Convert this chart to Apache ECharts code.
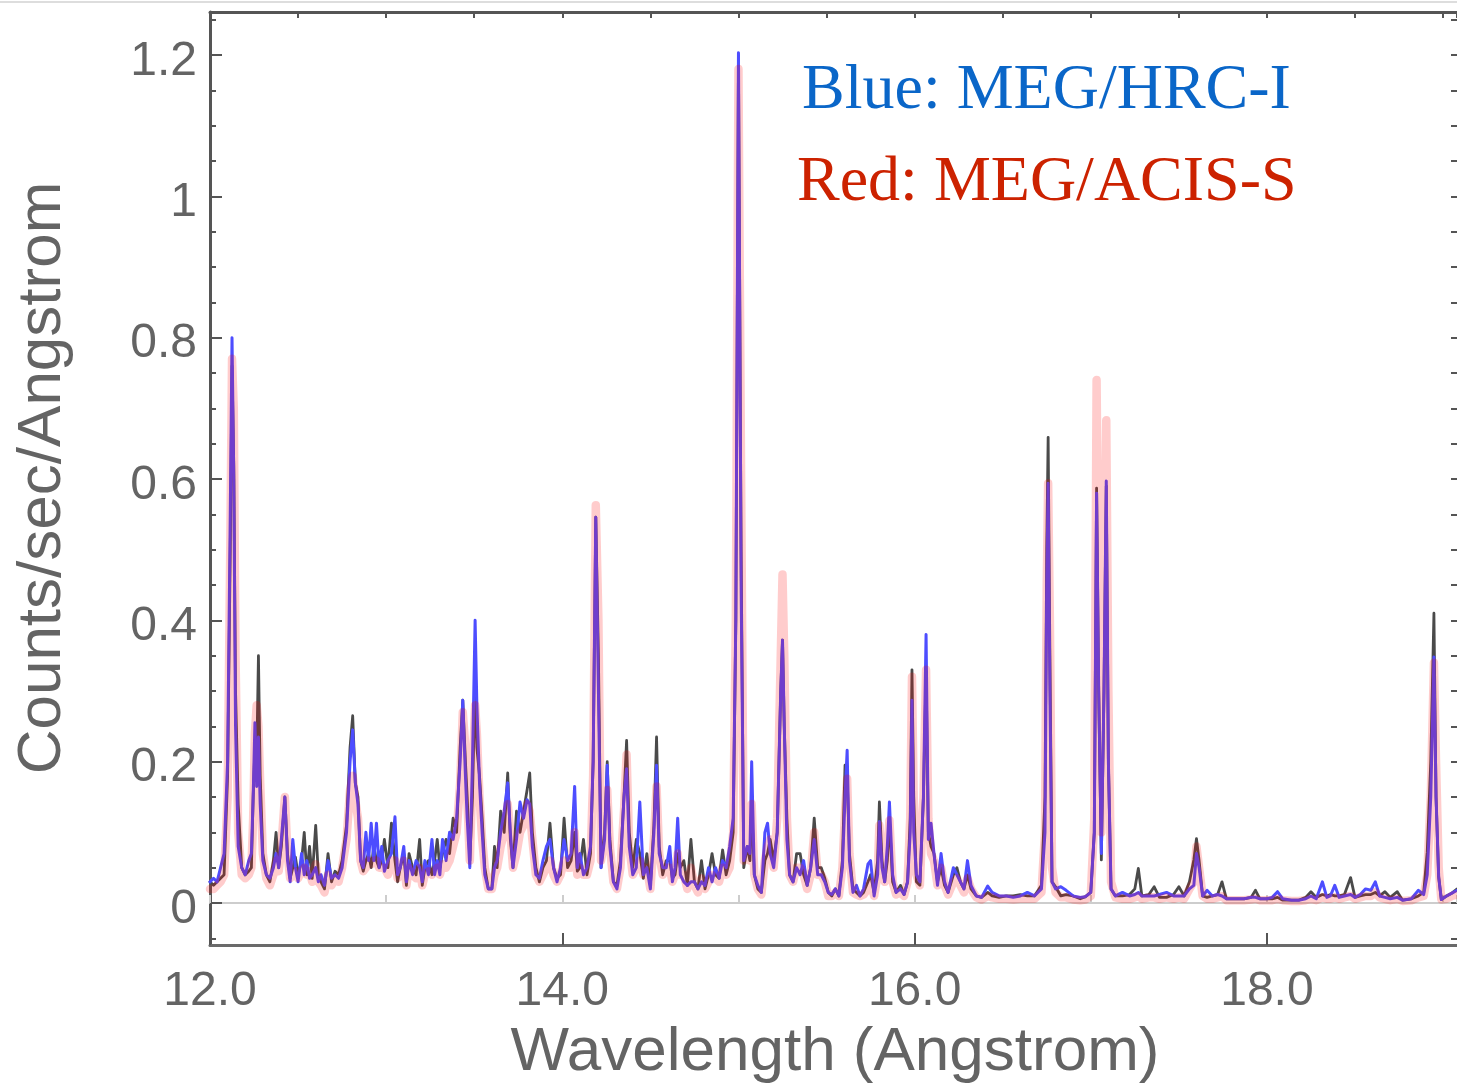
<!DOCTYPE html>
<html>
<head>
<meta charset="utf-8">
<title>MEG spectrum 12-19 Angstrom</title>
<script src="https://cdn.jsdelivr.net/npm/echarts@6/dist/echarts.min.js"></script>
<style>
  html, body { margin: 0; padding: 0; background: #ffffff; }
  #chart { width: 1457px; height: 1086px; }
</style>
</head>
<body>
<div id="chart"></div>
<script>
// Wavelength grid (Angstrom) shared by the three spectra
const wavelength = [
  12.00, 12.02, 12.04, 12.06, 12.08, 12.10, 12.115, 12.125, 12.135, 12.145,
  12.16, 12.18, 12.20, 12.22, 12.235, 12.245, 12.255, 12.265, 12.275, 12.285,
  12.30, 12.32, 12.34, 12.36, 12.375, 12.39, 12.405, 12.425, 12.44, 12.455,
  12.47, 12.485, 12.50, 12.52, 12.535, 12.55, 12.565, 12.58, 12.60, 12.615,
  12.63, 12.65, 12.67, 12.69, 12.71, 12.73, 12.75, 12.775, 12.795, 12.81,
  12.825, 12.84, 12.855, 12.87, 12.885, 12.90, 12.915, 12.93, 12.945, 12.96,
  12.975, 12.99, 13.01, 13.03, 13.05, 13.065, 13.08, 13.10, 13.115, 13.13,
  13.15, 13.17, 13.19, 13.205, 13.22, 13.24, 13.26, 13.275, 13.29, 13.305,
  13.32, 13.34, 13.36, 13.38, 13.40, 13.42, 13.435, 13.45, 13.46, 13.475,
  13.49, 13.505, 13.515, 13.53, 13.545, 13.56, 13.58, 13.60, 13.615, 13.63,
  13.65, 13.67, 13.69, 13.705, 13.72, 13.74, 13.76, 13.78, 13.80, 13.815,
  13.83, 13.85, 13.87, 13.89, 13.91, 13.93, 13.95, 13.97, 13.99, 14.01,
  14.03, 14.05, 14.07, 14.085, 14.10, 14.12, 14.14, 14.16, 14.175, 14.19,
  14.205, 14.22, 14.24, 14.255, 14.27, 14.29, 14.31, 14.33, 14.35, 14.365,
  14.38, 14.40, 14.42, 14.44, 14.46, 14.48, 14.50, 14.52, 14.535, 14.55,
  14.57, 14.59, 14.61, 14.625, 14.64, 14.655, 14.67, 14.69, 14.71, 14.73,
  14.75, 14.77, 14.79, 14.81, 14.83, 14.85, 14.87, 14.89, 14.91, 14.93,
  14.95, 14.97, 14.985, 15.00, 15.015, 15.03, 15.05, 15.065, 15.075, 15.09,
  15.11, 15.13, 15.15, 15.165, 15.18, 15.20, 15.22, 15.24, 15.25, 15.26,
  15.275, 15.29, 15.31, 15.33, 15.35, 15.37, 15.39, 15.41, 15.43, 15.45,
  15.47, 15.49, 15.51, 15.53, 15.55, 15.57, 15.59, 15.605, 15.617, 15.63,
  15.65, 15.67, 15.69, 15.71, 15.735, 15.75, 15.77, 15.79, 15.80, 15.815,
  15.83, 15.845, 15.857, 15.875, 15.895, 15.92, 15.94, 15.96, 15.975, 15.985,
  15.995, 16.01, 16.03, 16.05, 16.065, 16.078, 16.093, 16.11, 16.13, 16.15,
  16.17, 16.19, 16.22, 16.24, 16.26, 16.28, 16.30, 16.32, 16.35, 16.38,
  16.415, 16.44, 16.48, 16.52, 16.56, 16.60, 16.64, 16.68, 16.72, 16.74,
  16.75, 16.758, 16.768, 16.78, 16.80, 16.83, 16.86, 16.90, 16.94, 16.97,
  17.00, 17.02, 17.033, 17.045, 17.06, 17.075, 17.088, 17.10, 17.115, 17.14,
  17.18, 17.22, 17.25, 17.27, 17.29, 17.33, 17.36, 17.39, 17.43, 17.47,
  17.50, 17.53, 17.56, 17.585, 17.60, 17.615, 17.635, 17.66, 17.69, 17.72,
  17.745, 17.77, 17.82, 17.87, 17.91, 17.935, 17.96, 18.00, 18.03, 18.06,
  18.09, 18.14, 18.18, 18.22, 18.25, 18.28, 18.315, 18.34, 18.36, 18.385,
  18.41, 18.44, 18.475, 18.50, 18.53, 18.56, 18.59, 18.615, 18.64, 18.67,
  18.70, 18.74, 18.77, 18.82, 18.86, 18.89, 18.91, 18.93, 18.948, 18.96,
  18.975, 18.99, 19.02, 19.05, 19.08
];

// MEG/HRC-I count rate (counts/sec/Angstrom)
const hrcI = [
  .03, .035, .03, .05, .07, .20, .55, .80, .60, .25,
  .08, .05, .04, .06, .07, .15, .255, .165, .235, .14,
  .06, .04, .035, .05, .07, .05, .09, .15, .06, .03,
  .09, .05, .03, .07, .04, .06, .035, .04, .05, .03,
  .04, .025, .06, .035, .04, .035, .05, .10, .20, .245,
  .17, .14, .06, .05, .10, .06, .113, .06, .113, .05,
  .08, .045, .06, .07, .122, .04, .05, .08, .03, .06,
  .04, .06, .05, .03, .06, .04, .09, .04, .06, .04,
  .09, .06, .10, .09, .12, .20, .287, .18, .12, .05,
  .20, .40, .28, .17, .10, .04, .02, .02, .05, .06,
  .10, .13, .17, .10, .05, .09, .143, .12, .146, .14,
  .08, .04, .035, .06, .08, .09, .05, .03, .05, .09,
  .06, .07, .165, .05, .07, .04, .05, .08, .20, .546,
  .30, .05, .09, .195, .08, .03, .02, .05, .15, .19,
  .08, .04, .05, .143, .04, .05, .02, .10, .195, .07,
  .05, .05, .08, .03, .05, .12, .04, .03, .025, .03,
  .03, .02, .03, .025, .05, .03, .05, .035, .06, .05,
  .08, .12, .40, 1.203, .45, .06, .08, .07, .20, .04,
  .025, .015, .10, .113, .07, .05, .10, .30, .372, .25,
  .09, .04, .03, .05, .04, .06, .025, .05, .09, .04,
  .04, .03, .015, .012, .02, .01, .05, .15, .216, .06,
  .015, .025, .01, .02, .055, .06, .01, .04, .115, .05,
  .03, .08, .143, .04, .015, .02, .012, .03, .10, .287,
  .10, .04, .03, .15, .38, .09, .113, .07, .025, .07,
  .03, .015, .05, .04, .03, .02, .06, .025, .01, .008,
  .024, .015, .01, .01, .008, .01, .015, .01, .02, .10,
  .45, .594, .30, .03, .02, .023, .018, .01, .008, .009,
  .015, .10, .58, .30, .07, .30, .597, .20, .02, .01,
  .015, .01, .012, .015, .01, .01, .01, .012, .015, .01,
  .01, .01, .02, .025, .07, .05, .01, .018, .01, .012,
  .01, .006, .006, .006, .008, .008, .006, .006, .008, .016,
  .006, .004, .004, .006, .01, .006, .03, .008, .01, .025,
  .008, .01, .012, .008, .012, .02, .018, .03, .01, .008,
  .006, .008, .004, .006, .018, .012, .04, .15, .348, .15,
  .037, .005, .01, .014, .018
];

// Dark comparison spectrum
const darkTrace = [
  .03, .025, .03, .035, .04, .18, .50, .76, .62, .30,
  .14, .05, .04, .045, .05, .15, .22, .20, .35, .18,
  .07, .04, .03, .06, .10, .05, .08, .15, .07, .035,
  .05, .065, .04, .06, .10, .04, .08, .035, .11, .04,
  .03, .02, .07, .03, .045, .04, .06, .11, .22, .265,
  .17, .15, .06, .045, .06, .07, .05, .08, .06, .05,
  .06, .09, .05, .113, .06, .03, .05, .07, .025, .07,
  .05, .04, .09, .025, .05, .06, .04, .06, .09, .05,
  .07, .09, .07, .12, .10, .22, .287, .20, .15, .06,
  .15, .318, .22, .18, .12, .05, .02, .02, .08, .05,
  .13, .10, .184, .09, .05, .13, .10, .13, .16, .184,
  .10, .05, .03, .05, .06, .113, .05, .035, .04, .12,
  .05, .06, .10, .045, .05, .09, .04, .07, .20, .546,
  .35, .05, .10, .20, .09, .03, .025, .06, .15, .23,
  .10, .05, .09, .07, .035, .07, .025, .11, .235, .08,
  .04, .06, .06, .035, .04, .07, .05, .06, .025, .09,
  .03, .02, .06, .02, .04, .07, .04, .035, .075, .04,
  .06, .10, .40, 1.19, .50, .05, .08, .06, .14, .04,
  .02, .015, .06, .07, .09, .06, .10, .30, .372, .25,
  .12, .04, .03, .07, .07, .04, .025, .05, .12, .05,
  .05, .035, .015, .01, .02, .01, .06, .195, .18, .07,
  .02, .015, .01, .015, .03, .04, .015, .06, .143, .06,
  .03, .06, .12, .03, .015, .025, .012, .03, .12, .33,
  .15, .03, .025, .15, .328, .10, .08, .07, .03, .05,
  .025, .015, .04, .05, .03, .02, .04, .02, .01, .008,
  .015, .01, .008, .01, .01, .012, .01, .01, .025, .15,
  .50, .659, .35, .03, .023, .01, .012, .01, .006, .009,
  .015, .10, .587, .30, .061, .30, .59, .20, .02, .01,
  .01, .012, .02, .049, .01, .012, .023, .008, .008, .012,
  .023, .01, .03, .061, .091, .06, .01, .008, .01, .012,
  .03, .006, .006, .006, .008, .018, .006, .006, .006, .008,
  .004, .004, .004, .008, .016, .008, .012, .01, .012, .01,
  .01, .012, .036, .008, .01, .012, .012, .015, .01, .016,
  .008, .016, .004, .006, .01, .015, .072, .20, .41, .15,
  .037, .005, .01, .014, .02
];

// MEG/ACIS-S count rate (counts/sec/Angstrom)
const acisS = [
  .02, .02, .025, .03, .04, .15, .50, .77, .70, .35,
  .10, .04, .035, .04, .05, .12, .24, .28, .25, .17,
  .07, .035, .025, .04, .06, .045, .08, .15, .07, .035,
  .04, .045, .035, .045, .05, .04, .045, .03, .055, .03,
  .025, .015, .04, .025, .035, .03, .05, .09, .16, .18,
  .145, .12, .06, .045, .05, .06, .055, .06, .06, .05,
  .05, .05, .04, .06, .06, .035, .04, .06, .025, .05,
  .04, .035, .05, .025, .04, .045, .04, .045, .05, .04,
  .055, .05, .06, .08, .10, .17, .27, .22, .15, .06,
  .18, .28, .24, .15, .09, .05, .02, .02, .04, .05,
  .08, .10, .14, .10, .05, .07, .10, .11, .14, .13,
  .09, .04, .03, .04, .05, .06, .04, .03, .04, .06,
  .05, .05, .10, .04, .05, .04, .04, .06, .18, .563,
  .40, .06, .09, .16, .08, .03, .02, .05, .13, .21,
  .08, .04, .05, .06, .04, .05, .02, .09, .165, .07,
  .04, .05, .05, .03, .04, .07, .04, .04, .02, .05,
  .025, .015, .035, .02, .03, .04, .035, .03, .05, .04,
  .05, .10, .40, 1.18, .60, .06, .07, .06, .14, .04,
  .02, .012, .06, .08, .09, .05, .12, .35, .465, .35,
  .12, .04, .03, .05, .05, .04, .02, .04, .10, .04,
  .04, .03, .01, .01, .015, .01, .05, .13, .176, .07,
  .015, .012, .01, .012, .02, .03, .01, .04, .11, .06,
  .03, .07, .117, .03, .012, .015, .01, .03, .12, .32,
  .15, .04, .025, .15, .33, .12, .07, .06, .025, .05,
  .025, .012, .03, .035, .025, .015, .035, .02, .008, .005,
  .01, .008, .006, .006, .005, .006, .006, .006, .015, .10,
  .45, .594, .40, .05, .015, .008, .008, .005, .004, .005,
  .01, .12, .74, .40, .10, .40, .683, .30, .03, .008,
  .006, .006, .008, .01, .006, .008, .008, .006, .008, .006,
  .008, .006, .02, .03, .08, .05, .01, .006, .006, .008,
  .01, .004, .004, .004, .005, .006, .004, .004, .004, .006,
  .004, .003, .003, .004, .006, .004, .008, .006, .006, .008,
  .006, .008, .01, .006, .008, .01, .01, .015, .008, .006,
  .004, .006, .003, .004, .008, .01, .04, .15, .34, .20,
  .05, .005, .006, .01, .012
];

// Axis ranges and tick positions
const xRange = [12, 19.079];
const yRange = [-0.0594, 1.2608];
const yMajorTicks = [0, 0.2, 0.4, 0.6, 0.8, 1, 1.2];
const yMinorTicks = [-0.05, 0.05, 0.1, 0.15, 0.25, 0.3, 0.35, 0.45, 0.5, 0.55,
  0.65, 0.7, 0.75, 0.85, 0.9, 0.95, 1.05, 1.1, 1.15, 1.25];

const pairs = vals => wavelength.map((w, i) => [w, vals[i]]);

const SANS = '"Liberation Sans", Arial, Helvetica, sans-serif';
const SERIF = '"Liberation Serif", "Times New Roman", serif';
const TEXT_GREY = '#646464';
const FRAME = '#555555';

const chart = echarts.init(document.getElementById('chart'), null, { renderer: 'canvas' });

const lineSeries = (name, vals, color, width, z) => ({
  name: name,
  type: 'line',
  xAxisIndex: 0,
  yAxisIndex: 0,
  data: pairs(vals),
  showSymbol: false,
  symbol: 'none',
  smooth: false,
  z: z,
  silent: true,
  lineStyle: { color: color, width: width, join: 'round', cap: 'round' }
});

chart.setOption({
  animation: false,
  backgroundColor: '#ffffff',
  grid: { left: 210, top: 12, width: 1248, height: 933, containLabel: false },
  xAxis: [
    {
      // bottom frame with labelled ticks
      type: 'value', position: 'bottom', min: xRange[0], max: xRange[1], interval: 2,
      axisLine: { onZero: false, lineStyle: { color: '#6a6a6a', width: 3 } },
      axisTick: { inside: true, length: 12, lineStyle: { color: FRAME, width: 2 } },
      axisLabel: {
        showMaxLabel: false, margin: 23, fontSize: 48, fontFamily: SANS, color: TEXT_GREY,
        formatter: v => v.toFixed(1)
      },
      splitLine: { show: false }
    },
    {
      // top frame
      type: 'value', position: 'top', min: xRange[0], max: xRange[1], interval: 0.5,
      axisLine: { onZero: false, lineStyle: { color: FRAME, width: 3 } },
      axisTick: { inside: true, length: 6, lineStyle: { color: FRAME, width: 2 } },
      axisLabel: { show: false },
      splitLine: { show: false }
    },
    {
      // baseline at zero counts
      type: 'value', position: 'bottom', min: xRange[0], max: xRange[1], interval: 1,
      axisLine: { onZero: true, onZeroAxisIndex: 0, lineStyle: { color: '#cdcdcd', width: 2 } },
      axisTick: { inside: true, length: 8, lineStyle: { color: '#cdcdcd', width: 2 } },
      axisLabel: { show: false },
      splitLine: { show: false }
    }
  ],
  yAxis: [
    {
      type: 'value', position: 'left', min: yRange[0], max: yRange[1],
      axisLine: { show: true, onZero: false, lineStyle: { color: FRAME, width: 3 } },
      axisTick: { show: true, inside: true, length: 12, customValues: yMajorTicks,
        lineStyle: { color: FRAME, width: 2 } },
      axisLabel: {
        show: true, customValues: yMajorTicks, margin: 13,
        formatter: v => '{v|' + v + '}',
        rich: {
          v: { fontSize: 48, fontFamily: SANS, color: TEXT_GREY, padding: [13, 0, 0, 0] }
        }
      },
      splitLine: { show: false }
    },
    {
      type: 'value', position: 'left', min: yRange[0], max: yRange[1],
      axisLine: { show: false, onZero: false },
      axisTick: { show: true, inside: true, length: 6, customValues: yMinorTicks,
        lineStyle: { color: FRAME, width: 2 } },
      axisLabel: { show: false },
      splitLine: { show: false }
    },
    {
      type: 'value', position: 'right', min: yRange[0], max: yRange[1],
      axisLine: { show: false, onZero: false },
      axisTick: { show: true, inside: true, length: 6,
        customValues: yMajorTicks.concat(yMinorTicks), lineStyle: { color: FRAME, width: 2 } },
      axisLabel: { show: false },
      splitLine: { show: false }
    }
  ],
  series: [
    lineSeries('Comparison', darkTrace, '#4a4a4a', 2.8, 3),
    lineSeries('MEG/HRC-I', hrcI, '#4d4dff', 3, 4),
    lineSeries('MEG/ACIS-S', acisS, 'rgba(255, 0, 0, 0.2)', 8.5, 5)
  ],
  graphic: [
    {
      type: 'line', silent: true,
      shape: { x1: 0, y1: 2, x2: 1457, y2: 2 },
      style: { stroke: '#dddddd', lineWidth: 2 }
    },
    {
      type: 'text', silent: true, x: 43, y: 478, rotation: Math.PI / 2,
      style: {
        text: 'Counts/sec/Angstrom', fill: TEXT_GREY,
        font: '62px ' + SANS, align: 'center', verticalAlign: 'middle',
        textAlign: 'center', textVerticalAlign: 'middle'
      }
    },
    {
      type: 'text', silent: true, x: 835, y: 1053,
      style: {
        text: 'Wavelength (Angstrom)', fill: TEXT_GREY,
        font: '62px ' + SANS, align: 'center', verticalAlign: 'middle',
        textAlign: 'center', textVerticalAlign: 'middle'
      }
    },
    {
      type: 'text', silent: true, x: 802, y: 91,
      style: {
        text: 'Blue: MEG/HRC-I', fill: '#0a66c8',
        font: '64px ' + SERIF, align: 'left', verticalAlign: 'middle',
        textAlign: 'left', textVerticalAlign: 'middle'
      }
    },
    {
      type: 'text', silent: true, x: 797, y: 183,
      style: {
        text: 'Red: MEG/ACIS-S', fill: '#cc2200',
        font: '64px ' + SERIF, align: 'left', verticalAlign: 'middle',
        textAlign: 'left', textVerticalAlign: 'middle'
      }
    }
  ]
});
</script>
</body>
</html>
